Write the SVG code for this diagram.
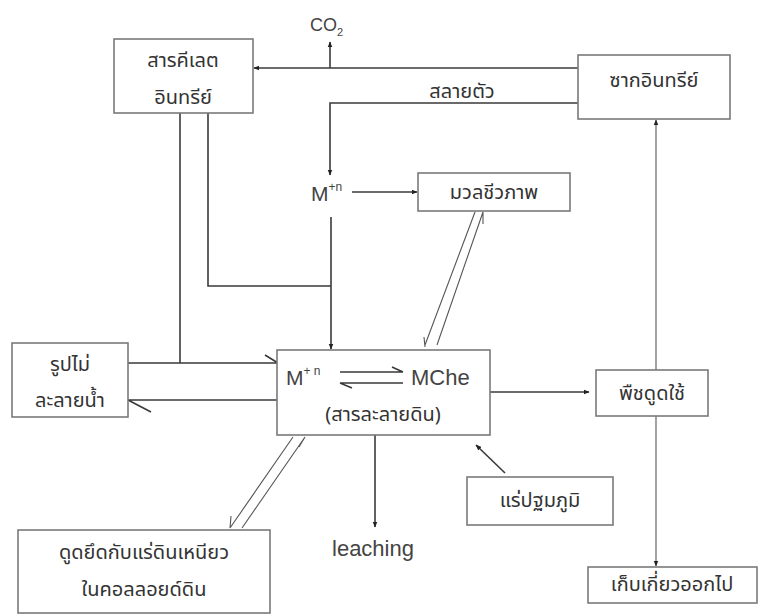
<svg xmlns="http://www.w3.org/2000/svg" width="767" height="616" viewBox="0 0 767 616">
<style>
.box{fill:#fff;stroke:#7a7a7a;stroke-width:1.6}
.ln{fill:none;stroke:#3a3a3a;stroke-width:1.6}
.thin{fill:none;stroke:#555;stroke-width:1.1}
.t{font-family:"Noto Sans Thai","Noto Sans","DejaVu Sans",sans-serif;font-size:20px;fill:#333;text-anchor:middle}
.e{font-family:"Liberation Sans",Arial,sans-serif;fill:#444}
</style>
<defs>
<marker id="ah" viewBox="0 0 10 10" refX="9" refY="5" markerWidth="6" markerHeight="6" orient="auto" markerUnits="userSpaceOnUse">
<path d="M0,1 L10,5 L0,9 z" fill="#222"/>
</marker>
</defs>
<rect width="767" height="616" fill="#fff"/>

<g id="connectors">
<path class="ln" d="M578,68 H254" marker-end="url(#ah)"/>
<path class="ln" d="M330,68 V42" marker-end="url(#ah)"/>
<path class="ln" d="M578,103 H330 V175" marker-end="url(#ah)"/>
<path class="ln" d="M352,192 H417" marker-end="url(#ah)"/>
<path class="ln" d="M331,217 V349" marker-end="url(#ah)"/>
<path class="ln" d="M208,113 V286 H331"/>
<path class="ln" d="M180,113 V363"/>
<path class="ln" d="M128,363 H278 M265,355 L278,363"/>
<path class="ln" d="M278,400 H128 M128,400 L151,412"/>
<path class="thin" d="M425,345 L475,212 M424,337 L425,347"/>
<path class="thin" d="M437,345 L483,212 M483,212 L483,224"/>
<path class="ln" d="M490,392 H589" marker-end="url(#ah)"/>
<path class="thin" d="M656,370 V120" marker-end="url(#ah)"/>
<path class="thin" d="M656,416 V566" marker-end="url(#ah)"/>
<path class="thin" d="M293,437 L230,528 M230,528 L231,516"/>
<path class="thin" d="M305,437 L242,528 M305,437 L299,447"/>
<path class="ln" d="M375,435 V527" marker-end="url(#ah)"/>
<path class="ln" d="M505,473 L476,445" marker-end="url(#ah)"/>
</g>

<g id="co2"><text class="e" x="310" y="31" font-size="18">CO<tspan font-size="11" dy="5">2</tspan></text></g>
<g id="salaytua"><text class="t" x="462" y="98">สลายตัว</text></g>

<g id="chelate">
<rect class="box" x="114" y="39" width="139" height="74"/>
<text class="t" x="183" y="67">สารคีเลต</text>
<text class="t" x="183" y="104">อินทรีย์</text>
</g>

<g id="residue">
<rect class="box" x="578" y="55" width="152" height="64"/>
<text class="t" x="654" y="87">ซากอินทรีย์</text>
</g>

<g id="mn-top"><text class="e" x="311" y="201" font-size="21">M<tspan font-size="12" dy="-10">+n</tspan></text></g>

<g id="biomass">
<rect class="box" x="418" y="173" width="152" height="38"/>
<text class="t" x="494" y="199">มวลชีวภาพ</text>
</g>

<g id="insoluble">
<rect class="box" x="12" y="343" width="116" height="74"/>
<text class="t" x="70" y="371">รูปไม่</text>
<text class="t" x="70" y="407">ละลายน้ำ</text>
</g>

<g id="soilsolution">
<rect class="box" x="277" y="350" width="213" height="85"/>
<text class="e" x="286" y="385" font-size="21">M<tspan font-size="12" dy="-10">+ n</tspan></text>
<path class="ln" d="M340,372 H403 M403,372 L392,367"/>
<path class="ln" d="M340,383 H403 M340,383 L352,388"/>
<text class="e" x="411" y="385" font-size="22">MChe</text>
<text class="t" x="383" y="421">(สารละลายดิน)</text>
</g>

<g id="plant">
<rect class="box" x="596" y="370" width="112" height="46"/>
<text class="t" x="652" y="400">พืชดูดใช้</text>
</g>

<g id="clay">
<rect class="box" x="18" y="530" width="252" height="83"/>
<text class="t" x="144" y="559">ดูดยึดกับแร่ดินเหนียว</text>
<text class="t" x="144" y="596">ในคอลลอยด์ดิน</text>
</g>

<g id="leaching"><text class="e" x="373" y="556" font-size="22" text-anchor="middle">leaching</text></g>

<g id="primary">
<rect class="box" x="467" y="477" width="146" height="48"/>
<text class="t" x="540" y="507">แร่ปฐมภูมิ</text>
</g>

<g id="harvest">
<rect class="box" x="588" y="567" width="169" height="36"/>
<text class="t" x="672" y="591">เก็บเกี่ยวออกไป</text>
</g>
</svg>
